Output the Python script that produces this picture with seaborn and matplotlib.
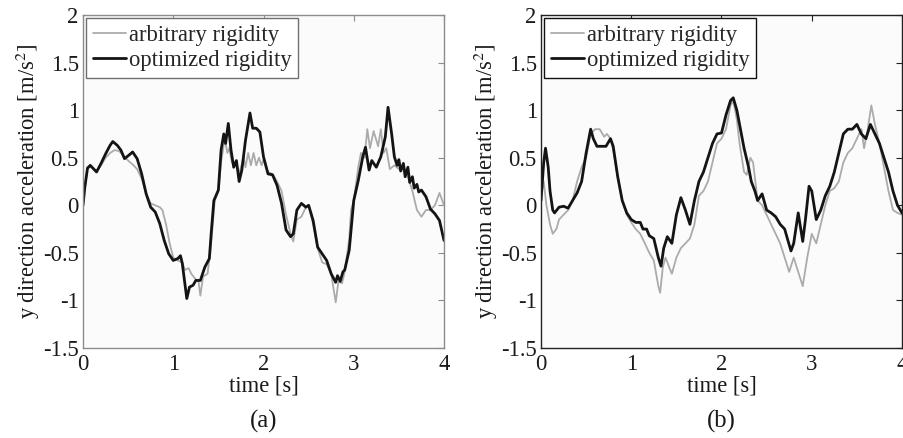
import numpy as np
import pandas as pd
import matplotlib
matplotlib.use("Agg")
import matplotlib.pyplot as plt
import seaborn as sns

# ---- panel (a) ----
t_a_opt = [0, 0.02, 0.05, 0.08, 0.1, 0.15, 0.2, 0.25, 0.3, 0.33, 0.38, 0.42, 0.46, 0.5,
           0.55, 0.6, 0.65, 0.7, 0.75, 0.8, 0.85, 0.9, 0.95, 1.0, 1.05, 1.08, 1.1, 1.15,
           1.18, 1.22, 1.25, 1.3, 1.35, 1.4, 1.42, 1.45, 1.5, 1.53, 1.56, 1.58, 1.61, 1.64,
           1.67, 1.7, 1.73, 1.76, 1.8, 1.85, 1.88, 1.92, 1.96, 2.0, 2.05, 2.1, 2.15, 2.2,
           2.25, 2.3, 2.33, 2.37, 2.42, 2.47, 2.5, 2.55, 2.6, 2.65, 2.7, 2.75, 2.8, 2.82,
           2.85, 2.88, 2.9, 2.95, 3.0, 3.05, 3.1, 3.13, 3.17, 3.2, 3.25, 3.3, 3.35, 3.38,
           3.42, 3.45, 3.48, 3.5, 3.52, 3.55, 3.57, 3.6, 3.62, 3.65, 3.67, 3.7, 3.72, 3.75,
           3.8, 3.85, 3.9, 3.95, 4.0]
y_a_opt = [0, 0.19, 0.39, 0.42, 0.40, 0.35, 0.44, 0.54, 0.63, 0.67, 0.63, 0.58, 0.49, 0.52,
           0.56, 0.49, 0.33, 0.12, -0.02, -0.07, -0.19, -0.37, -0.51, -0.58, -0.56, -0.53, -0.61, -0.98,
           -0.86, -0.84, -0.79, -0.79, -0.65, -0.56, -0.30, 0.05, 0.16, 0.58, 0.75, 0.65, 0.86, 0.58,
           0.40, 0.47, 0.25, 0.37, 0.68, 0.97, 0.81, 0.81, 0.77, 0.51, 0.33, 0.32, 0.21, 0.02,
           -0.26, -0.33, -0.30, -0.05, 0.02, -0.02, 0.0, -0.16, -0.44, -0.51, -0.58, -0.72, -0.81, -0.74,
           -0.80, -0.70, -0.68, -0.47, 0.05, 0.26, 0.51, 0.61, 0.37, 0.47, 0.40, 0.51, 0.72, 1.03,
           0.75, 0.51, 0.42, 0.48, 0.36, 0.44, 0.30, 0.40, 0.24, 0.30, 0.18, 0.22, 0.14, 0.16,
           0.09, -0.04, -0.09, -0.16, -0.37]

t_a_arb = [0, 0.05, 0.1, 0.15, 0.2, 0.25, 0.3, 0.35, 0.4, 0.45, 0.5, 0.55, 0.6, 0.65, 0.7,
           0.75, 0.8, 0.85, 0.88, 0.92, 0.96, 1.0, 1.05, 1.1, 1.13, 1.17, 1.2, 1.25, 1.28, 1.3,
           1.33, 1.38, 1.42, 1.46, 1.5, 1.53, 1.57, 1.6, 1.62, 1.65, 1.7, 1.73, 1.75, 1.78, 1.8,
           1.83, 1.86, 1.89, 1.92, 1.95, 1.98, 2.0, 2.05, 2.1, 2.15, 2.2, 2.25, 2.3, 2.33, 2.37,
           2.42, 2.47, 2.5, 2.55, 2.6, 2.65, 2.7, 2.75, 2.8, 2.83, 2.87, 2.9, 2.95, 2.97, 3.0,
           3.05, 3.08, 3.12, 3.15, 3.18, 3.22, 3.27, 3.3, 3.33, 3.36, 3.4, 3.45, 3.5, 3.55, 3.6,
           3.65, 3.7, 3.75, 3.8, 3.85, 3.9, 3.95, 4.0]
y_a_arb = [0, 0.40, 0.40, 0.36, 0.42, 0.50, 0.55, 0.58, 0.57, 0.52, 0.47, 0.43, 0.38, 0.28, 0.12,
           0.02, 0.0, -0.02, -0.05, -0.20, -0.40, -0.55, -0.58, -0.60, -0.68, -0.66, -0.72, -0.78, -0.80, -0.95,
           -0.75, -0.72, -0.40, 0.05, 0.15, 0.45, 0.70, 0.55, 0.60, 0.45, 0.42, 0.33, 0.40, 0.50, 0.40,
           0.55, 0.42, 0.55, 0.42, 0.50, 0.42, 0.48, 0.35, 0.33, 0.25, 0.15, -0.10, -0.30, -0.38, -0.15,
           -0.12, -0.02, 0.0, -0.20, -0.45, -0.60, -0.62, -0.72, -1.02, -0.80, -0.82, -0.70, -0.35, -0.05, 0.05,
           0.40, 0.55, 0.50, 0.80, 0.60, 0.78, 0.62, 0.80, 0.55, 0.60, 0.38, 0.42, 0.38, 0.42, 0.30,
           0.15, -0.05, -0.12, -0.05, -0.05, 0.0, 0.13, 0.0]

# ---- panel (b) ----
t_b_opt = [0, 0.03, 0.05, 0.08, 0.1, 0.13, 0.15, 0.2, 0.25, 0.3, 0.35, 0.4, 0.45, 0.5, 0.55,
           0.58, 0.62, 0.67, 0.72, 0.77, 0.8, 0.85, 0.9, 0.95, 1.0, 1.05, 1.1, 1.13, 1.17, 1.2,
           1.25, 1.3, 1.33, 1.36, 1.4, 1.45, 1.5, 1.55, 1.6, 1.65, 1.7, 1.75, 1.8, 1.85, 1.9,
           1.95, 2.0, 2.05, 2.1, 2.13, 2.17, 2.2, 2.25, 2.3, 2.33, 2.37, 2.4, 2.45, 2.5, 2.55,
           2.6, 2.65, 2.7, 2.73, 2.77, 2.8, 2.85, 2.9, 2.93, 2.97, 3.0, 3.05, 3.1, 3.15, 3.2,
           3.25, 3.3, 3.35, 3.4, 3.45, 3.5, 3.55, 3.6, 3.65, 3.7, 3.75, 3.8, 3.85, 3.9, 3.95, 4.0]
y_b_opt = [0.05, 0.45, 0.60, 0.40, 0.15, -0.05, -0.08, -0.02, -0.01, -0.03, 0.05, 0.13, 0.25, 0.55, 0.80,
           0.70, 0.62, 0.62, 0.62, 0.70, 0.62, 0.30, 0.05, -0.08, -0.15, -0.18, -0.18, -0.25, -0.25, -0.32,
           -0.35, -0.55, -0.64, -0.45, -0.33, -0.40, -0.10, 0.08, -0.05, -0.20, 0.05, 0.25, 0.35, 0.50, 0.65,
           0.75, 0.76, 0.95, 1.10, 1.13, 1.0, 0.85, 0.60, 0.40, 0.25, 0.15, 0.05, 0.12, -0.05, -0.08,
           -0.12, -0.20, -0.25, -0.35, -0.48, -0.40, -0.08, -0.38, -0.15, 0.20, 0.15, -0.15, -0.05, 0.10, 0.20,
           0.35, 0.55, 0.75, 0.80, 0.80, 0.85, 0.75, 0.70, 0.85, 0.75, 0.65, 0.50, 0.35, 0.15, 0.0, -0.08]

t_b_arb = [0, 0.03, 0.06, 0.1, 0.13, 0.17, 0.2, 0.25, 0.3, 0.35, 0.4, 0.45, 0.5, 0.55, 0.6,
           0.65, 0.7, 0.73, 0.77, 0.8, 0.85, 0.9, 0.95, 1.0, 1.05, 1.1, 1.15, 1.2, 1.25, 1.3,
           1.32, 1.35, 1.38, 1.42, 1.45, 1.5, 1.55, 1.6, 1.65, 1.7, 1.75, 1.8, 1.85, 1.9, 1.95,
           2.0, 2.05, 2.1, 2.13, 2.17, 2.2, 2.25, 2.28, 2.32, 2.35, 2.4, 2.45, 2.5, 2.55, 2.6,
           2.65, 2.7, 2.75, 2.8, 2.85, 2.9, 2.95, 3.0, 3.05, 3.1, 3.15, 3.2, 3.25, 3.3, 3.35,
           3.4, 3.45, 3.5, 3.55, 3.58, 3.62, 3.66, 3.7, 3.75, 3.8, 3.85, 3.9, 3.95, 4.0]
y_b_arb = [0.10, 0.25, 0.0, -0.20, -0.30, -0.25, -0.15, -0.10, -0.05, 0.05, 0.25, 0.40, 0.50, 0.75, 0.80,
           0.80, 0.72, 0.75, 0.70, 0.58, 0.30, 0.05, -0.10, -0.18, -0.25, -0.30, -0.40, -0.50, -0.58, -0.85,
           -0.92, -0.65, -0.55, -0.65, -0.72, -0.55, -0.45, -0.40, -0.35, -0.20, 0.10, 0.15, 0.25, 0.45, 0.65,
           0.70, 0.80, 1.05, 1.10, 0.90, 0.65, 0.35, 0.32, 0.50, 0.45, 0.05, 0.0, -0.10, -0.20, -0.30,
           -0.40, -0.55, -0.70, -0.55, -0.70, -0.85, -0.55, -0.30, -0.40, -0.20, 0.0, 0.15, 0.18, 0.25, 0.45,
           0.55, 0.60, 0.70, 0.80, 0.60, 0.80, 1.05, 0.85, 0.65, 0.40, 0.15, -0.05, -0.08, -0.10]

series_names = ["arbitrary rigidity", "optimized rigidity"]
panel_labels = ["(a)", "(b)"]
x_ticks = [0, 1, 2, 3, 4]
y_ticks = [-1.5, -1, -0.5, 0, 0.5, 1, 1.5, 2]
y_tick_labels = ["-1.5", "-1", "-0.5", "0", "0.5", "1", "1.5", "2"]

sns.set_theme(style="white")
plt.rcParams["font.family"] = ["Liberation Serif", "DejaVu Serif"]
plt.rcParams["mathtext.fontset"] = "stix"

W, H = 904, 438
fig = plt.figure(figsize=(W / 100, H / 100), dpi=100)
fig.patch.set_facecolor("white")

panels = [
    dict(left=83, right=444, arb=(t_a_arb, y_a_arb), opt=(t_a_opt, y_a_opt),
         spine="#8c8c8c", frame="#707070"),
    dict(left=541, right=902, arb=(t_b_arb, y_b_arb), opt=(t_b_opt, y_b_opt),
         spine="#222222", frame="#111111"),
]
top, bottom = 15, 348
fs = 16.3

for p, lab in zip(panels, panel_labels):
    ax = fig.add_axes([p["left"] / W, (H - bottom) / H,
                       (p["right"] - p["left"]) / W, (bottom - top) / H])
    ax.set_facecolor("#fbfbfb")
    df = pd.concat([
        pd.DataFrame({"time": p["arb"][0], "acc": p["arb"][1], "case": series_names[0]}),
        pd.DataFrame({"time": p["opt"][0], "acc": p["opt"][1], "case": series_names[1]}),
    ])
    sns.lineplot(data=df, x="time", y="acc", hue="case", sort=False, estimator=None,
                 palette={series_names[0]: "#ababab", series_names[1]: "#141414"},
                 size="case", sizes={series_names[0]: 1.3, series_names[1]: 2.0},
                 ax=ax, legend=False)
    for ln in ax.get_lines():
        ln.set_solid_joinstyle("round")
    ax.set_xlim(0, 4)
    ax.set_ylim(-1.5, 2)
    ax.set_xticks(x_ticks)
    ax.set_xticklabels([str(v) for v in x_ticks])
    ax.set_yticks(y_ticks)
    ax.set_yticklabels(y_tick_labels)
    ax.tick_params(direction="in", length=4, width=0.8, colors=p["spine"],
                   labelcolor="#1a1a1a", labelsize=fs, top=True, right=True,
                   pad=3)
    ax.tick_params(axis="x", pad=4)
    for s in ax.spines.values():
        s.set_color(p["spine"])
        s.set_linewidth(1.0)
    ax.set_xlabel("time [s]", fontsize=fs, color="#1a1a1a", labelpad=1)
    ax.set_ylabel("y direction acceleration [m/s$^2$]", fontsize=fs, color="#1a1a1a",
                  labelpad=1)
    handles = [plt.Line2D([], [], color="#ababab", lw=1.3),
               plt.Line2D([], [], color="#141414", lw=2.0)]
    leg = ax.legend(handles, series_names, loc="upper left", fontsize=fs,
                    frameon=True, fancybox=False, handlelength=1.5,
                    handletextpad=0.1, borderpad=0.3, labelspacing=0.2,
                    borderaxespad=0.12)
    leg.get_frame().set_edgecolor(p["frame"])
    leg.get_frame().set_linewidth(1.0)
    leg.get_frame().set_facecolor("white")
    leg.get_frame().set_alpha(1)
    ax.text(0.5, -0.185, lab, transform=ax.transAxes, ha="center", va="top",
            fontsize=fs + 1.5, color="#1a1a1a")

fig.savefig("out.png", dpi=100)
